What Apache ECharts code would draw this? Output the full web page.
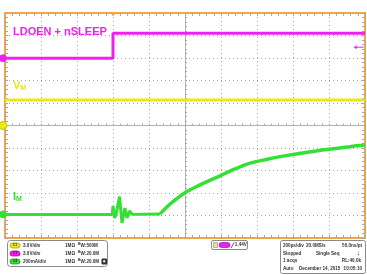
<!DOCTYPE html>
<html><head><meta charset="utf-8">
<script src="https://cdn.jsdelivr.net/npm/echarts@6/dist/echarts.min.js"></script>
<style>html,body{margin:0;padding:0;background:#fff}#c{width:367px;height:275px}</style>
</head><body><div id="c"></div>
<script>
// time in divisions (200 µs/div), amplitude in divisions
const ch1Time = [0, 10];
const ch1Div = [1.13, 1.13];
const ch3Time = [0, 3.0, 3.0, 10];
const ch3Div = [2.99, 2.99, 4.10, 4.10];
const ch4Time = [0, 2.98, 3.0, 3.05, 3.1, 3.18, 3.25, 3.33, 3.39, 3.46, 3.53, 4.31, 4.58, 5.0, 5.42, 5.97, 6.39, 6.81, 7.25, 7.72, 8.64, 9.58, 10.0];
const ch4Div = [-3.95, -3.95, -3.58, -4.11, -3.85, -3.16, -4.33, -3.67, -4.11, -3.8, -3.95, -3.93, -3.50, -2.99, -2.64, -2.24, -1.93, -1.67, -1.51, -1.36, -1.13, -0.94, -0.87];
const ch4RiseStart = 11;
const groundLevels = [0, 2.99, -3.95];
const triggerTime = 3.0;
const triggerLevel = 3.48;
const chanRows = [['3.0V/div', '500M'], ['3.0V/div', '20.0M'], ['200mA/div', '20.0M']];
const infoRows = [['200µs/div', '20.0MS/s', '50.0ns/pt'], ['Stopped', 'Single Seq', '↓'], ['1 acqs', '', 'RL:40.0k'], ['Auto', 'December 14, 2015', '10:05:10']];

const C1 = '#EAEA10', C3 = '#F020F0', C4 = '#33E033';
const frameColor = '#F2A446', tickColor = '#A8A8A8';

function zip(a, b) { return a.map((v, i) => [v, b[i]]); }

function frameX(pos) {
  return { gridIndex: 0, type: 'value', min: 0, max: 10, interval: 1, position: pos,
    axisLine: { show: true, onZero: false, lineStyle: { color: frameColor, width: 2 } },
    axisTick: { show: true, inside: true, length: 3, lineStyle: { color: tickColor } },
    minorTick: { show: true, splitNumber: 5, length: 3, lineStyle: { color: tickColor } },
    axisLabel: { show: false },
    splitLine: { show: pos === 'bottom', lineStyle: { type: [1, 3], color: '#A5A5A5' } } };
}
function frameY(pos) {
  return { gridIndex: 0, type: 'value', min: -5, max: 5, interval: 1, position: pos,
    axisLine: { show: true, onZero: false, lineStyle: { color: frameColor, width: 2 } },
    axisTick: { show: true, inside: true, length: 3, lineStyle: { color: tickColor } },
    minorTick: { show: true, splitNumber: 5, length: 3, lineStyle: { color: tickColor } },
    axisLabel: { show: false },
    splitLine: { show: pos === 'left', lineStyle: { type: [1, 3], color: '#A5A5A5' } } };
}
const centerAxis = () => ({ gridIndex: 1, type: 'value', min: -5, max: 5, interval: 1,
  axisLine: { show: true, onZero: true, lineStyle: { color: '#BDB3A3', width: 1 } },
  axisTick: { show: true, inside: true, length: 2, lineStyle: { color: tickColor } },
  minorTick: { show: true, splitNumber: 5, length: 2, lineStyle: { color: tickColor } },
  axisLabel: { show: false }, splitLine: { show: false } });

const chart = echarts.init(document.getElementById('c'), null, { renderer: 'canvas' });
const gridRect = { left: 5, top: 13, width: 360, height: 225 };
const ch4 = zip(ch4Time, ch4Div);
chart.setOption({
  animation: false,
  backgroundColor: '#fff',
  grid: [Object.assign({}, gridRect), Object.assign({}, gridRect)],
  xAxis: [frameX('bottom'), frameX('top'), centerAxis()],
  yAxis: [frameY('left'), frameY('right'), centerAxis()],
  series: [
    { type: 'line', xAxisIndex: 0, yAxisIndex: 0, data: zip(ch1Time, ch1Div), showSymbol: false, lineStyle: { color: C1, width: 3 }, z: 5 },
    { type: 'line', xAxisIndex: 0, yAxisIndex: 0, data: zip(ch3Time, ch3Div), showSymbol: false, lineStyle: { color: C3, width: 3 }, z: 5 },
    { type: 'line', xAxisIndex: 0, yAxisIndex: 0, data: ch4.slice(0, ch4RiseStart + 1), showSymbol: false, lineStyle: { color: C4, width: 3 }, z: 5 },
    { type: 'line', xAxisIndex: 0, yAxisIndex: 0, data: ch4.slice(ch4RiseStart), smooth: 0.35, showSymbol: false, lineStyle: { color: C4, width: 3.5 }, z: 5 }
  ]
});

const px = (x, y) => chart.convertToPixel({ xAxisIndex: 0, yAxisIndex: 0 }, [x, y]);
const g = [];
const bold = 'bold 11px "Liberation Sans", Arial, sans-serif';
g.push({ type: 'text', left: 13, top: 26, z: 20, style: { text: 'LDOEN + nSLEEP', font: bold, fill: C3 } });
g.push({ type: 'text', left: 13, top: 80, z: 20, style: { text: '{a|V}{b|M}', rich: { a: { font: 'bold 11px "Liberation Sans", Arial', fill: C1, color: C1 }, b: { font: 'bold 7px "Liberation Sans", Arial', fill: C1, color: C1, padding: [5, 0, 0, 0] } } } });
g.push({ type: 'text', left: 13, top: 191, z: 20, style: { text: '{a|I}{b|M}', rich: { a: { font: 'bold 11px "Liberation Sans", Arial', fill: C4, color: C4 }, b: { font: 'bold 7px "Liberation Sans", Arial', fill: C4, color: C4, padding: [5, 0, 0, 0] } } } });

// ground markers
const gcol = [C1, C3, C4];
groundLevels.forEach((lv, i) => {
  const p = px(0, lv);
  g.push({ type: 'circle', z: 30, shape: { cx: p[0] - 2, cy: p[1], r: i === 0 ? 4 : 3.5 }, style: { fill: gcol[i], stroke: i === 0 ? '#C8C800' : gcol[i], lineWidth: 1 } });
});
// trigger time marker
const tp = px(triggerTime, 5);
g.push({ type: 'polygon', z: 30, shape: { points: [[tp[0] - 2.5, tp[1]], [tp[0] + 2.5, tp[1]], [tp[0], tp[1] + 3]] }, style: { fill: frameColor } });
// trigger level arrow
const tl = px(9.85, triggerLevel);
g.push({ type: 'line', z: 30, shape: { x1: tl[0] - 4, y1: tl[1], x2: tl[0] + 4, y2: tl[1] }, style: { stroke: C3, lineWidth: 1 } });
g.push({ type: 'polygon', z: 30, shape: { points: [[tl[0] - 6, tl[1]], [tl[0] - 3, tl[1] - 2], [tl[0] - 3, tl[1] + 2]] }, style: { fill: C3 } });

// bottom-left channel box
const small = 'bold 4.6px "Liberation Sans", Arial, sans-serif';
g.push({ type: 'rect', z: 20, shape: { x: 7.5, y: 240.5, width: 100, height: 26, r: 3 }, style: { fill: '#fff', stroke: '#8A8A8A', lineWidth: 1 } });
const pillCol = [[C1, '#9A9A00'], [C3, '#8A008A'], [C4, '#138A13']];
const pillTxt = ['C1', 'C3', 'C4'];
chanRows.forEach((r, i) => {
  const y = 245.5 + i * 8;
  g.push({ type: 'rect', z: 21, shape: { x: 10, y: y - 2.5, width: 10, height: 5, r: 2.5 }, style: { fill: pillCol[i][0], stroke: pillCol[i][1], lineWidth: 0.7 } });
  g.push({ type: 'text', z: 22, x: 15, y: y, style: { text: pillTxt[i], font: 'bold 3.5px Arial', fill: '#333', align: 'center', verticalAlign: 'middle' } });
  g.push({ type: 'text', z: 22, x: 23, y: y, style: { text: r[0], font: small, fill: '#333', verticalAlign: 'middle' } });
  g.push({ type: 'text', z: 22, x: 65, y: y, style: { text: '1MΩ', font: small, fill: '#333', verticalAlign: 'middle' } });
  g.push({ type: 'text', z: 22, x: 78, y: y, style: { text: '{s|B}{t|W}:' + r[1], font: small, fill: '#333', verticalAlign: 'middle', rich: { s: { font: 'bold 3.5px Arial', padding: [0, 0, 3, 0], fill: '#333', color: '#333' }, t: { font: small, fill: '#333', color: '#333' } } } });
});
g.push({ type: 'rect', z: 22, shape: { x: 102, y: 259, width: 4.5, height: 5 }, style: { fill: '#333', stroke: '#333' } });
g.push({ type: 'rect', z: 23, shape: { x: 103.2, y: 260.3, width: 2, height: 2 }, style: { fill: '#fff' } });

// trigger box
g.push({ type: 'rect', z: 20, shape: { x: 211.5, y: 240.5, width: 36, height: 9, r: 1.5 }, style: { fill: '#fff', stroke: '#8A8A8A', lineWidth: 1 } });
g.push({ type: 'rect', z: 21, shape: { x: 213.5, y: 242.5, width: 4, height: 5 }, style: { fill: '#E8D8A0', stroke: '#777', lineWidth: 0.5 } });
g.push({ type: 'rect', z: 21, shape: { x: 219, y: 242.5, width: 11, height: 5, r: 2.5 }, style: { fill: C3, stroke: '#8A008A', lineWidth: 0.6 } });
g.push({ type: 'line', z: 21, shape: { x1: 231, y1: 248, x2: 234, y2: 242.5 }, style: { stroke: '#333', lineWidth: 0.8 } });
g.push({ type: 'text', z: 22, x: 234.8, y: 245.2, style: { text: '1.44V', font: small, fill: '#333', verticalAlign: 'middle' } });

// info box
g.push({ type: 'rect', z: 20, shape: { x: 280.5, y: 240.5, width: 85, height: 33, r: 2 }, style: { fill: '#fff', stroke: '#8A8A8A', lineWidth: 1 } });
const colX = [[283, 306, 362], [283, 316, 360], [283, 0, 361], [283, 299, 362]];
infoRows.forEach((r, i) => {
  const y = 245.5 + i * 7.8;
  g.push({ type: 'text', z: 22, x: colX[i][0], y: y, style: { text: r[0], font: small, fill: '#333', verticalAlign: 'middle' } });
  if (r[1]) g.push({ type: 'text', z: 22, x: colX[i][1], y: y, style: { text: r[1], font: small, fill: '#333', verticalAlign: 'middle' } });
  g.push({ type: 'text', z: 22, x: colX[i][2], y: y, style: { text: r[2], font: i === 1 ? 'bold 7px Arial' : small, fill: '#333', align: 'right', verticalAlign: 'middle' } });
});

chart.setOption({ graphic: g });
</script></body></html>
